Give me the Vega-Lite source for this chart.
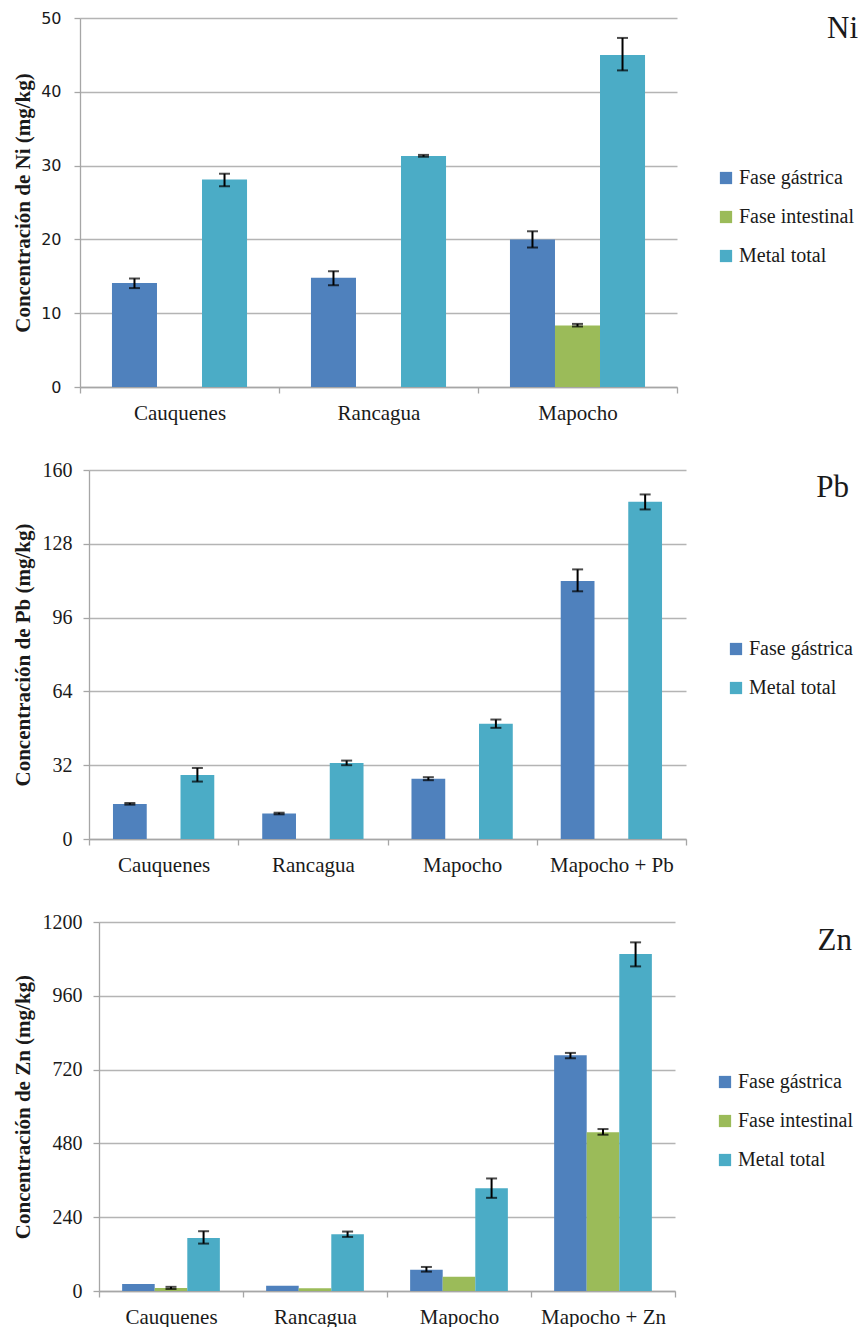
{
  "$schema": "https://vega.github.io/schema/vega-lite/v6.json",
  "background": "white",
  "padding": {"left": 11, "top": 10, "right": 0, "bottom": 0},
  "config": {
    "view": {"stroke": null},
    "font": "Liberation Serif",
    "axis": {"gridColor": "#b4b4b4", "domainColor": "#a6a6a6", "tickColor": "#a6a6a6", "tickSize": 6, "labelColor": "#1a1a1a", "titleColor": "#1a1a1a", "domainWidth": 1.3, "tickWidth": 1.3, "gridWidth": 1.3},
    "axisY": {"titleFont": "Liberation Serif", "titleFontWeight": "bold", "titleFontSize": 21, "labelFont": "Liberation Serif", "labelFontSize": 20},
    "legend": {"orient": "none", "symbolType": "square", "symbolSize": 150, "symbolStrokeWidth": 0, "labelFont": "Liberation Serif", "labelFontSize": 20, "labelColor": "#1a1a1a", "rowPadding": 19, "labelOffset": 3, "padding": 0, "title": null},
    "title": {"font": "Liberation Serif", "fontSize": 31, "fontWeight": "normal", "color": "#1a1a1a", "anchor": "end", "frame": "group", "offset": 0, "baseline": "alphabetic"}
  },
  "datasets": {
    "empty": [],
    "ni": [
      {"site": "Cauquenes", "fase": "Fase gástrica", "v": 14.1, "lo": 13.4, "hi": 14.7},
      {"site": "Cauquenes", "fase": "Metal total", "v": 28.1, "lo": 27.2, "hi": 28.9},
      {"site": "Rancagua", "fase": "Fase gástrica", "v": 14.8, "lo": 13.8, "hi": 15.7},
      {"site": "Rancagua", "fase": "Metal total", "v": 31.3, "lo": 31.2, "hi": 31.45},
      {"site": "Mapocho", "fase": "Fase gástrica", "v": 20.0, "lo": 18.9, "hi": 21.1},
      {"site": "Mapocho", "fase": "Fase intestinal", "v": 8.35, "lo": 8.2, "hi": 8.55},
      {"site": "Mapocho", "fase": "Metal total", "v": 45.0, "lo": 42.9, "hi": 47.3}
    ],
    "pb": [
      {"site": "Cauquenes", "fase": "Fase gástrica", "v": 15.2, "lo": 14.9, "hi": 15.6},
      {"site": "Cauquenes", "fase": "Metal total", "v": 27.8, "lo": 24.9, "hi": 30.8},
      {"site": "Rancagua", "fase": "Fase gástrica", "v": 11.1, "lo": 10.7, "hi": 11.4},
      {"site": "Rancagua", "fase": "Metal total", "v": 32.9, "lo": 32.0, "hi": 34.0},
      {"site": "Mapocho", "fase": "Fase gástrica", "v": 26.1, "lo": 25.5, "hi": 26.8},
      {"site": "Mapocho", "fase": "Metal total", "v": 50.0, "lo": 48.2, "hi": 51.8},
      {"site": "Mapocho + Pb", "fase": "Fase gástrica", "v": 111.9, "lo": 107.4, "hi": 116.9},
      {"site": "Mapocho + Pb", "fase": "Metal total", "v": 146.2, "lo": 142.9, "hi": 149.4}
    ],
    "zn": [
      {"site": "Cauquenes", "fase": "Fase gástrica", "v": 22.8},
      {"site": "Cauquenes", "fase": "Fase intestinal", "v": 9.8, "lo": 6.5, "hi": 13.5},
      {"site": "Cauquenes", "fase": "Metal total", "v": 172.7, "lo": 154.2, "hi": 194.4},
      {"site": "Rancagua", "fase": "Fase gástrica", "v": 17.4},
      {"site": "Rancagua", "fase": "Fase intestinal", "v": 8.7},
      {"site": "Rancagua", "fase": "Metal total", "v": 184.6, "lo": 175.9, "hi": 193.3},
      {"site": "Mapocho", "fase": "Fase gástrica", "v": 69.5, "lo": 63.0, "hi": 78.2},
      {"site": "Mapocho", "fase": "Fase intestinal", "v": 46.7},
      {"site": "Mapocho", "fase": "Metal total", "v": 334.5, "lo": 303.0, "hi": 366.0},
      {"site": "Mapocho + Zn", "fase": "Fase gástrica", "v": 766.7, "lo": 756.9, "hi": 774.3},
      {"site": "Mapocho + Zn", "fase": "Fase intestinal", "v": 515.9, "lo": 508.3, "hi": 526.7},
      {"site": "Mapocho + Zn", "fase": "Metal total", "v": 1095.8, "lo": 1055.6, "hi": 1133.8}
    ]
  },
  "spacing": 37,
  "resolve": {"scale": {"color": "independent", "x": "independent", "y": "independent", "xOffset": "independent"}, "legend": {"color": "independent"}},
  "vconcat": [
    {
      "spacing": 0,
      "resolve": {"scale": {"color": "independent", "x": "independent", "y": "independent"}, "legend": {"color": "independent"}},
      "hconcat": [
        {"width": 1, "height": 1, "data": {"name": "empty"}, "mark": {"type": "point", "opacity": 0}},
        {
          "width": 597, "height": 369,
          "title": {"text": "Ni", "dx": 181, "dy": 39},
          "data": {"name": "ni"},
          "encoding": {
            "x": {"field": "site", "type": "nominal", "scale": {"domain": ["Cauquenes", "Rancagua", "Mapocho"], "paddingInner": 0, "paddingOuter": 0}, "axis": {"title": null, "grid": false, "labelAngle": 0, "labelFont": "Liberation Serif", "labelFontSize": 21, "labelPadding": 9, "tickBand": "extent"}},
            "xOffset": {"field": "fase", "type": "nominal", "scale": {"domain": ["Fase gástrica", "Fase intestinal", "Metal total"], "paddingInner": 0, "paddingOuter": 0.71}}
          },
          "layer": [
            {"mark": {"type": "bar"},
             "encoding": {
               "y": {"field": "v", "type": "quantitative", "scale": {"domain": [0, 50]}, "axis": {"values": [0, 10, 20, 30, 40, 50], "format": "d", "title": "Concentración de Ni (mg/kg)", "labelFont": "DejaVu Sans", "labelFontSize": 16, "labelPadding": 13, "titlePadding": 7, "grid": true}},
               "color": {"field": "fase", "type": "nominal", "scale": {"domain": ["Fase gástrica", "Fase intestinal", "Metal total"], "range": ["#4f81bd", "#9bbb59", "#4bacc6"]}, "legend": {"legendX": 636, "legendY": 150}}
             }},
            {"transform": [{"filter": "isValid(datum.lo)"}], "mark": {"type": "rule", "color": "black", "strokeWidth": 2},
             "encoding": {"y": {"field": "lo", "type": "quantitative", "scale": {"domain": [0, 50]}}, "y2": {"field": "hi"}}},
            {"transform": [{"filter": "isValid(datum.lo)"}], "mark": {"type": "tick", "color": "black", "thickness": 2, "size": 11},
             "encoding": {"y": {"field": "lo", "type": "quantitative", "scale": {"domain": [0, 50]}}}},
            {"transform": [{"filter": "isValid(datum.lo)"}], "mark": {"type": "tick", "color": "black", "thickness": 2, "size": 11},
             "encoding": {"y": {"field": "hi", "type": "quantitative", "scale": {"domain": [0, 50]}}}}
          ]
        }
      ]
    },
    {
      "spacing": 0,
      "resolve": {"scale": {"color": "independent", "x": "independent", "y": "independent"}, "legend": {"color": "independent"}},
      "hconcat": [
        {"width": 1, "height": 1, "data": {"name": "empty"}, "mark": {"type": "point", "opacity": 0}},
        {
          "width": 597, "height": 369,
          "title": {"text": "Pb", "dx": 163, "dy": 48},
          "data": {"name": "pb"},
          "encoding": {
            "x": {"field": "site", "type": "nominal", "scale": {"domain": ["Cauquenes", "Rancagua", "Mapocho", "Mapocho + Pb"], "paddingInner": 0, "paddingOuter": 0}, "axis": {"title": null, "grid": false, "labelAngle": 0, "labelFont": "Liberation Serif", "labelFontSize": 21, "labelPadding": 9, "tickBand": "extent"}},
            "xOffset": {"field": "fase", "type": "nominal", "scale": {"domain": ["Fase gástrica", "Fase intestinal", "Metal total"], "paddingInner": 0, "paddingOuter": 0.71}}
          },
          "layer": [
            {"mark": {"type": "bar"},
             "encoding": {
               "y": {"field": "v", "type": "quantitative", "scale": {"domain": [0, 160]}, "axis": {"values": [0, 32, 64, 96, 128, 160], "format": "d", "title": "Concentración de Pb (mg/kg)", "labelPadding": 11, "titlePadding": 9, "grid": true}},
               "color": {"field": "fase", "type": "nominal", "scale": {"domain": ["Fase gástrica", "Metal total"], "range": ["#4f81bd", "#4bacc6"]}, "legend": {"legendX": 637, "legendY": 169}}
             }},
            {"transform": [{"filter": "isValid(datum.lo)"}], "mark": {"type": "rule", "color": "black", "strokeWidth": 2},
             "encoding": {"y": {"field": "lo", "type": "quantitative", "scale": {"domain": [0, 160]}}, "y2": {"field": "hi"}}},
            {"transform": [{"filter": "isValid(datum.lo)"}], "mark": {"type": "tick", "color": "black", "thickness": 2, "size": 11},
             "encoding": {"y": {"field": "lo", "type": "quantitative", "scale": {"domain": [0, 160]}}}},
            {"transform": [{"filter": "isValid(datum.lo)"}], "mark": {"type": "tick", "color": "black", "thickness": 2, "size": 11},
             "encoding": {"y": {"field": "hi", "type": "quantitative", "scale": {"domain": [0, 160]}}}}
          ]
        }
      ]
    },
    {
      "spacing": 0,
      "resolve": {"scale": {"color": "independent", "x": "independent", "y": "independent"}, "legend": {"color": "independent"}},
      "hconcat": [
        {"width": 1, "height": 1, "data": {"name": "empty"}, "mark": {"type": "point", "opacity": 0}},
        {
          "width": 576, "height": 369,
          "title": {"text": "Zn", "dx": 177, "dy": 49},
          "data": {"name": "zn"},
          "encoding": {
            "x": {"field": "site", "type": "nominal", "scale": {"domain": ["Cauquenes", "Rancagua", "Mapocho", "Mapocho + Zn"], "paddingInner": 0, "paddingOuter": 0}, "axis": {"title": null, "grid": false, "labelAngle": 0, "labelFont": "Liberation Serif", "labelFontSize": 21, "labelPadding": 9, "tickBand": "extent"}},
            "xOffset": {"field": "fase", "type": "nominal", "scale": {"domain": ["Fase gástrica", "Fase intestinal", "Metal total"], "paddingInner": 0, "paddingOuter": 0.71}}
          },
          "layer": [
            {"mark": {"type": "bar"},
             "encoding": {
               "y": {"field": "v", "type": "quantitative", "scale": {"domain": [0, 1200]}, "axis": {"values": [0, 240, 480, 720, 960, 1200], "format": "d", "title": "Concentración de Zn (mg/kg)", "labelPadding": 11, "titlePadding": 9, "grid": true}},
               "color": {"field": "fase", "type": "nominal", "scale": {"domain": ["Fase gástrica", "Fase intestinal", "Metal total"], "range": ["#4f81bd", "#9bbb59", "#4bacc6"]}, "legend": {"legendX": 616, "legendY": 150}}
             }},
            {"transform": [{"filter": "isValid(datum.lo)"}], "mark": {"type": "rule", "color": "black", "strokeWidth": 2},
             "encoding": {"y": {"field": "lo", "type": "quantitative", "scale": {"domain": [0, 1200]}}, "y2": {"field": "hi"}}},
            {"transform": [{"filter": "isValid(datum.lo)"}], "mark": {"type": "tick", "color": "black", "thickness": 2, "size": 11},
             "encoding": {"y": {"field": "lo", "type": "quantitative", "scale": {"domain": [0, 1200]}}}},
            {"transform": [{"filter": "isValid(datum.lo)"}], "mark": {"type": "tick", "color": "black", "thickness": 2, "size": 11},
             "encoding": {"y": {"field": "hi", "type": "quantitative", "scale": {"domain": [0, 1200]}}}}
          ]
        }
      ]
    }
  ]
}
